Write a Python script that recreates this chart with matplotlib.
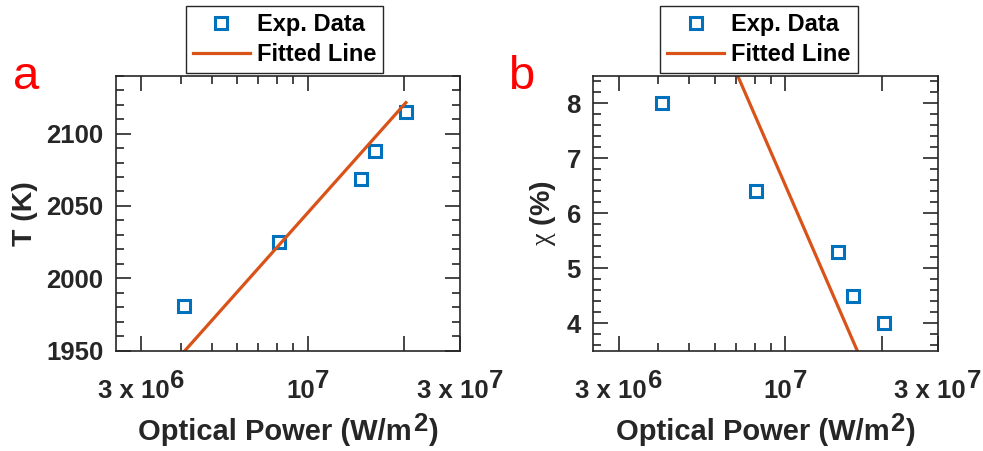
import matplotlib.pyplot as plt
from matplotlib.ticker import FixedLocator, NullFormatter
from matplotlib.offsetbox import TextArea, HPacker, VPacker, DrawingArea, AnnotationBbox

power = [4.1e6, 8.1e6, 1.465e7, 1.625e7, 2.03e7]
temperature = [1981, 2025, 2068.5, 2088, 2115]
chi = [8.0, 6.4, 5.3, 4.5, 4.0]

# fitted lines (end points, linear in log10 of power)
fit_power = [4.1e6, 2.03e7]
fit_temperature = [1949.5, 2121.4]
fit_chi = [11.67, 2.40]

x_major = [3e6, 1e7, 2e7, 3e7]
x_minor = [4e6, 5e6, 6e6, 7e6, 8e6, 9e6]
# labelled ticks: (value, base text, exponent)
x_labels = [(3e6, "3 x 10", "6"), (1e7, "10", "7"), (3e7, "3 x 10", "7")]

t_major = [1950, 2000, 2050, 2100]
t_minor = [1950 + 10 * i for i in range(20)]
chi_major = [4, 5, 6, 7, 8]
chi_minor = [3.6 + 0.2 * i for i in range(25)]

BLUE = "#0072BD"
ORANGE = "#D95319"
DARK = "#262626"

plt.rcParams["font.family"] = ["Liberation Sans", "DejaVu Sans"]
plt.rcParams["font.weight"] = "bold"
plt.rcParams["mathtext.fontset"] = "custom"
plt.rcParams["mathtext.rm"] = "Liberation Serif:weight=normal"
plt.rcParams["mathtext.default"] = "rm"

W, H = 983, 451
fig = plt.figure(figsize=(W / 100, H / 100), dpi=100)


def px_axes(left, top, right, bottom):
    return fig.add_axes([left / W, 1 - bottom / H, (right - left) / W, (bottom - top) / H])


def power_text(ax, xy, xycoords, base, sup, size, sup_size, raise_pt, dy, tail=""):
    props = dict(fontsize=size, fontweight="bold", color=DARK)
    sprops = dict(fontsize=sup_size, fontweight="bold", color=DARK)
    sup_box = VPacker(children=[TextArea(sup, textprops=sprops),
                                DrawingArea(1, raise_pt)],
                      pad=0, sep=0, align="left")
    parts = [TextArea(base, textprops=props), sup_box]
    if tail:
        parts.append(TextArea(tail, textprops=props))
    box = HPacker(children=parts, pad=0, sep=0.5, align="bottom")
    ab = AnnotationBbox(box, xy, xycoords=xycoords, xybox=(0, dy),
                        boxcoords="offset points", box_alignment=(0.5, 1),
                        frameon=False, pad=0, annotation_clip=False)
    ax.add_artist(ab)


def style_axes(ax, ymaj, ymin, ylim):
    ax.set_xscale("log")
    ax.set_xlim(2.5e6, 3e7)
    ax.set_ylim(*ylim)
    ax.xaxis.set_major_locator(FixedLocator(x_major))
    ax.xaxis.set_minor_locator(FixedLocator(x_minor))
    ax.xaxis.set_minor_formatter(NullFormatter())
    ax.yaxis.set_major_locator(FixedLocator(ymaj))
    ax.yaxis.set_minor_locator(FixedLocator(ymin))
    ax.tick_params(which="both", direction="in", top=True, right=True,
                   color=DARK, width=1.2)
    ax.tick_params(which="major", length=11, labelsize=18.5, labelcolor=DARK)
    ax.tick_params(axis="x", labelbottom=False)
    ax.tick_params(axis="y", which="major", pad=9)
    ax.tick_params(which="minor", length=5.5)
    for s in ax.spines.values():
        s.set_color(DARK)
        s.set_linewidth(1.2)
    for val, base, sup in x_labels:
        power_text(ax, (val, 0), ax.get_xaxis_transform(), base, sup,
                   18.5, 18.5, 7.5, -13)
    power_text(ax, (0.5, 0), ax.transAxes, "Optical Power (W/m", "2",
               21, 18.5, 7.0, -44, tail=")")


def add_legend(ax, x, y):
    leg = ax.legend(loc="upper left", bbox_to_anchor=(x / W, 1 - y / H),
                    bbox_transform=fig.transFigure, borderaxespad=0,
                    fontsize=17, numpoints=1, handlelength=2.4,
                    handletextpad=0.3, labelspacing=0.3, borderpad=0.3,
                    fancybox=False, framealpha=1, edgecolor=DARK)
    leg.get_frame().set_linewidth(1.0)


# panel a
ax1 = px_axes(115.7, 75.7, 460, 350.7)
ax1.plot(power, temperature, "s", ms=9, mfc="white", mec=BLUE, mew=2.2,
         ls="none", label="Exp. Data")
ax1.plot(fit_power, fit_temperature, color=ORANGE, lw=2.3, label="Fitted Line")
style_axes(ax1, t_major, t_minor, (1950, 2140))
ax1.set_ylabel("T (K)", fontsize=20.5, fontweight="bold", color=DARK, labelpad=6)
add_legend(ax1, 186, 5.7)

# panel b
ax2 = px_axes(593.3, 75.7, 937.7, 350.7)
ax2.plot(power, chi, "s", ms=9, mfc="white", mec=BLUE, mew=2.2,
         ls="none", label="Exp. Data")
ax2.plot(fit_power, fit_chi, color=ORANGE, lw=2.3, label="Fitted Line")
style_axes(ax2, chi_major, chi_minor, (3.5, 8.5))
ax2.set_ylabel(r"$\chi$ (%)", fontsize=20.5, fontweight="bold", color=DARK,
               labelpad=6)
add_legend(ax2, 660.3, 5.7)

fig.text(12.7 / W, 1 - 89 / H, "a", fontsize=34, color="red",
         fontweight="normal", va="baseline", ha="left")
fig.text(508 / W, 1 - 89 / H, "b", fontsize=34, color="red",
         fontweight="normal", va="baseline", ha="left")

fig.savefig("out.png", dpi=100)
